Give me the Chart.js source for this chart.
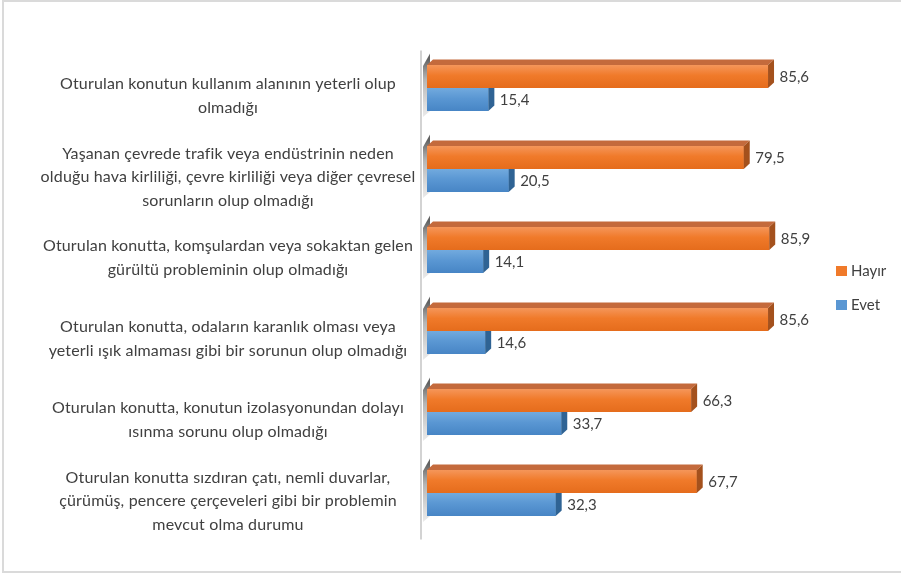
<!DOCTYPE html>
<html>
<head>
<meta charset="utf-8">
<script src="https://cdn.jsdelivr.net/npm/chart.js@4.4.1/dist/chart.umd.min.js"></script>
<style>
  html, body { margin: 0; padding: 0; background: #ffffff; overflow: hidden; }
  #wrap { position: relative; width: 901px; height: 574px; }
  #frame { position: absolute; left: 2px; top: 0px; width: 910px; height: 573px; border: 2px solid #dadada; box-sizing: border-box; pointer-events: none; }
  canvas { position: absolute; left: 0; top: 0; }
</style>
</head>
<body>
<div id="wrap">
  <canvas id="c" width="901" height="574"></canvas>
  <div id="frame"></div>
</div>
<script>
const categories = [
  ["Oturulan konutun kullanım alanının yeterli olup", "olmadığı"],
  ["Yaşanan çevrede trafik veya endüstrinin neden", "olduğu hava kirliliği, çevre kirliliği veya diğer çevresel", "sorunların olup olmadığı"],
  ["Oturulan konutta, komşulardan veya sokaktan gelen", "gürültü probleminin olup olmadığı"],
  ["Oturulan konutta, odaların karanlık olması veya", "yeterli ışık almaması gibi bir sorunun olup olmadığı"],
  ["Oturulan konutta, konutun izolasyonundan dolayı", "ısınma sorunu olup olmadığı"],
  ["Oturulan konutta sızdıran çatı, nemli duvarlar,", "çürümüş, pencere çerçeveleri gibi bir problemin", "mevcut olma durumu"]
];
const seriesNames = ["Hayır", "Evet"];
const hayir = [85.6, 79.5, 85.9, 85.6, 66.3, 67.7];
const evet = [15.4, 20.5, 14.1, 14.6, 33.7, 32.3];

const FONT = "Lato";
const TXT = "#404040";
const LABEL_SIZE = 16;
const LABEL_SPACING = "0.15px";
const DX = 6, DY = 5.5;
const faces = [
  { front: "#f07a2a", light: "#f5965a", dark: "#e56c1c", top: "#c46a3c", side: "#a4511d" },
  { front: "#5a97d3", light: "#72aade", dark: "#4785c5", top: "#4a7fb3", side: "#2f6394" }
];

const mctx = document.createElement("canvas").getContext("2d");
mctx.font = LABEL_SIZE + "px " + FONT;
try { mctx.letterSpacing = LABEL_SPACING; } catch (e) {}
let widest = 0;
categories.forEach(l => l.forEach(s => { widest = Math.max(widest, mctx.measureText(s).width); }));
const AXIS_W = 427;
const tickPad = Math.max(2, AXIS_W - 228 - widest / 2);

const fmt = v => v.toFixed(1).replace(".", ",");

const bar3d = {
  id: "bar3d",
  beforeUpdate(chart) {
    try { chart.ctx.letterSpacing = LABEL_SPACING; } catch (e) {}
  },
  beforeDraw(chart) {
    try { chart.ctx.letterSpacing = LABEL_SPACING; } catch (e) {}
  },
  beforeDatasetsDraw(chart) {
    const ctx = chart.ctx;
    const area = chart.chartArea;
    const L = area.left;
    ctx.save();
    ctx.strokeStyle = "#c8c8c8";
    ctx.lineWidth = 1.6;
    ctx.beginPath();
    ctx.moveTo(L - 6, area.top + 3);
    ctx.lineTo(L - 6, area.bottom + 6);
    ctx.stroke();
    const m0 = chart.getDatasetMeta(0), m1 = chart.getDatasetMeta(1);
    m0.data.forEach((el, i) => {
      const a = el.getProps(["y", "height"], true);
      const b = m1.data[i].getProps(["y", "height"], true);
      const top = a.y - a.height / 2;
      const bot = b.y + b.height / 2;
      const g = ctx.createLinearGradient(0, top - DY, 0, bot + 6);
      g.addColorStop(0, "rgba(70,70,70,0.85)");
      g.addColorStop(0.35, "rgba(120,120,120,0.55)");
      g.addColorStop(1, "rgba(170,170,170,0.25)");
      ctx.fillStyle = g;
      ctx.beginPath();
      ctx.moveTo(L - 4, top + 1);
      ctx.lineTo(L + 3, top - DY - 6);
      ctx.lineTo(L + 3, bot);
      ctx.lineTo(L - 4, bot + 6);
      ctx.closePath();
      ctx.fill();
    });
    ctx.restore();
  },
  afterDatasetDraw(chart, args) {
    const ctx = chart.ctx;
    const f = faces[args.index];
    args.meta.data.forEach(el => {
      const p = el.getProps(["x", "y", "base", "height"], true);
      const top = p.y - p.height / 2, bot = p.y + p.height / 2;
      ctx.save();
      const g = ctx.createLinearGradient(0, top, 0, bot);
      g.addColorStop(0, f.light);
      g.addColorStop(0.45, f.front);
      g.addColorStop(1, f.dark);
      ctx.fillStyle = g;
      ctx.fillRect(p.base, top, p.x - p.base, p.height);
      ctx.fillStyle = f.top;
      ctx.beginPath();
      ctx.moveTo(p.base, top);
      ctx.lineTo(p.base + DX, top - DY);
      ctx.lineTo(p.x + DX, top - DY);
      ctx.lineTo(p.x, top);
      ctx.closePath();
      ctx.fill();
      ctx.fillStyle = f.side;
      ctx.beginPath();
      ctx.moveTo(p.x, top);
      ctx.lineTo(p.x + DX, top - DY);
      ctx.lineTo(p.x + DX, bot - DY);
      ctx.lineTo(p.x, bot);
      ctx.closePath();
      ctx.fill();
      ctx.restore();
    });
  },
  afterDatasetsDraw(chart) {
    const ctx = chart.ctx;
    ctx.save();
    try { ctx.letterSpacing = "0px"; } catch (e) {}
    ctx.font = "15px " + FONT;
    ctx.fillStyle = TXT;
    ctx.textAlign = "left";
    ctx.textBaseline = "middle";
    chart.data.datasets.forEach((ds, di) => {
      chart.getDatasetMeta(di).data.forEach((el, i) => {
        const p = el.getProps(["x", "y"], true);
        ctx.fillText(fmt(ds.data[i]), p.x + DX + 5.5, p.y + 0.5);
      });
    });
    const area = chart.chartArea;
    const cy = (area.top + area.bottom) / 2 - 2.5;
    chart.data.datasets.forEach((ds, di) => {
      const y = cy + (di === 0 ? -17 : 17);
      ctx.fillStyle = ds.backgroundColor;
      ctx.fillRect(836, y - 5, 11, 10);
      ctx.fillStyle = TXT;
      ctx.fillText(ds.label, 851, y + 0.5);
    });
    ctx.restore();
  }
};

new Chart(document.getElementById("c"), {
  type: "bar",
  data: {
    labels: categories,
    datasets: [
      { label: seriesNames[0], data: hayir, backgroundColor: "#f07a2a", borderWidth: 0 },
      { label: seriesNames[1], data: evet, backgroundColor: "#5a97d3", borderWidth: 0 }
    ]
  },
  options: {
    indexAxis: "y",
    responsive: false,
    animation: false,
    events: [],
    categoryPercentage: 0.568,
    barPercentage: 1.0,
    layout: { padding: { top: 47.5, bottom: 40.5, left: 0, right: 75.6 } },
    plugins: { legend: { display: false }, tooltip: { enabled: false } },
    scales: {
      x: { min: 0, max: 100, display: false },
      y: {
        grid: { display: false, drawTicks: false },
        border: { display: false },
        afterFit(scale) {
          scale.width = AXIS_W;
          scale.paddingTop = 0;
          scale.paddingBottom = 0;
        },
        ticks: {
          autoSkip: false,
          crossAlign: "center",
          padding: tickPad,
          labelOffset: 8,
          color: TXT,
          font: { family: FONT, size: LABEL_SIZE, lineHeight: 1.47 }
        }
      }
    }
  },
  plugins: [bar3d]
});
</script>
</body>
</html>
